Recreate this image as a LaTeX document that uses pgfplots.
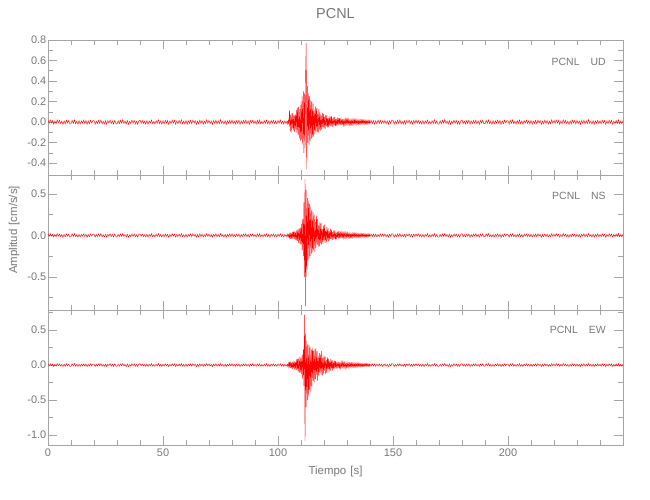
\documentclass[border=0pt]{standalone}
\usepackage{fontspec}
\setmainfont{Liberation Sans}
\usepackage{pgfplots}
\usepackage{pgfplotstable}
\pgfplotsset{compat=1.18}
\definecolor{txtgray}{RGB}{120,120,120}
\definecolor{axgray}{RGB}{165,165,165}
\definecolor{sig}{RGB}{255,0,0}

\pgfplotstableread[row sep=\\]{
t n\\
0 0.018\\0.5 -0.012\\1 0.021\\1.5 -0.009\\2 0.015\\2.5 -0.020\\3 0.011\\3.5 -0.016\\4 0.023\\4.5 -0.008\\
5 0.017\\5.5 -0.014\\6 0.010\\6.5 -0.022\\7 0.013\\7.5 -0.017\\8 0.020\\8.5 -0.010\\9 0.014\\9.5 -0.019\\
10 -0.015\\10.5 0.019\\11 -0.011\\11.5 0.022\\12 -0.016\\12.5 0.009\\13 -0.021\\13.5 0.014\\14 -0.018\\14.5 0.012\\
15 -0.010\\15.5 0.020\\16 -0.013\\16.5 0.017\\17 -0.023\\17.5 0.011\\18 -0.016\\18.5 0.019\\19 -0.009\\19.5 0.015\\
20 0.016\\20.5 -0.021\\21 0.010\\21.5 -0.014\\22 0.019\\22.5 -0.011\\23 0.022\\23.5 -0.017\\24 0.008\\24.5 -0.018\\
25 0.013\\25.5 -0.020\\26 0.016\\26.5 -0.009\\27 0.021\\27.5 -0.015\\28 0.012\\28.5 -0.019\\29 0.017\\29.5 -0.012\\
30 -0.020\\30.5 0.013\\31 -0.016\\31.5 0.018\\32 -0.010\\32.5 0.023\\33 -0.014\\33.5 0.011\\34 -0.019\\34.5 0.016\\
35 -0.022\\35.5 0.009\\36 -0.015\\36.5 0.020\\37 -0.012\\37.5 0.017\\38 -0.018\\38.5 0.010\\39 -0.021\\39.5 0.014\\
40 0.020\\40.5 -0.011\\41 0.017\\41.5 -0.013\\42 0.009\\42.5 -0.019\\43 0.015\\43.5 -0.022\\44 0.012\\44.5 -0.010\\
45 0.021\\45.5 -0.016\\46 0.008\\46.5 -0.018\\47 0.014\\47.5 -0.012\\48 0.022\\48.5 -0.015\\49 0.011\\49.5 -0.020\\
50 0.013\\50.5 -0.017\\51 0.019\\51.5 -0.010\\52 0.016\\52.5 -0.023\\53 0.012\\53.5 -0.014\\54 0.020\\54.5 -0.009\\
55 0.018\\55.5 -0.021\\56 0.011\\56.5 -0.015\\57 0.017\\57.5 -0.012\\58 0.023\\58.5 -0.016\\59 0.010\\59.5 -0.018\\
60 0.015\\60.5 -0.020\\61 0.012\\61.5 -0.011\\62 0.018\\62.5 -0.016\\63 0.021\\63.5 -0.009\\64 0.014\\64.5 -0.022\\
65 0.010\\65.5 -0.017\\66 0.019\\66.5 -0.013\\67 0.016\\67.5 -0.019\\68 0.009\\68.5 -0.014\\69 0.022\\69.5 -0.011\\
70 0.017\\70.5 -0.015\\71 0.011\\71.5 -0.021\\72 0.014\\72.5 -0.010\\73 0.020\\73.5 -0.018\\74 0.013\\74.5 -0.016\\
75 0.023\\75.5 -0.012\\76 0.009\\76.5 -0.019\\77 0.015\\77.5 -0.020\\78 0.012\\78.5 -0.011\\79 0.018\\79.5 -0.014\\
80 0.021\\80.5 -0.016\\81 0.010\\81.5 -0.018\\82 0.015\\82.5 -0.012\\83 0.019\\83.5 -0.022\\84 0.011\\84.5 -0.014\\
85 0.017\\85.5 -0.009\\86 0.020\\86.5 -0.017\\87 0.013\\87.5 -0.021\\88 0.016\\88.5 -0.010\\89 0.019\\89.5 -0.015\\
90 0.012\\90.5 -0.020\\91 0.018\\91.5 -0.011\\92 0.022\\92.5 -0.016\\93 0.009\\93.5 -0.019\\94 0.014\\94.5 -0.013\\
95 0.020\\95.5 -0.017\\96 0.011\\96.5 -0.021\\97 0.016\\97.5 -0.010\\98 0.019\\98.5 -0.014\\99 0.013\\99.5 -0.018\\
100 0.017\\100.5 -0.012\\101 0.021\\101.5 -0.015\\102 0.010\\102.5 -0.019\\103 0.014\\103.5 -0.016\\104 0.012\\
104.5 nan\\
146 -0.013\\146.5 0.018\\147 -0.016\\147.5 0.011\\148 -0.020\\148.5 0.015\\149 -0.012\\149.5 0.021\\
150 0.016\\150.5 -0.021\\151 0.010\\151.5 -0.014\\152 0.019\\152.5 -0.011\\153 0.022\\153.5 -0.017\\154 0.008\\154.5 -0.018\\
155 0.013\\155.5 -0.020\\156 0.016\\156.5 -0.009\\157 0.021\\157.5 -0.015\\158 0.012\\158.5 -0.019\\159 0.017\\159.5 -0.012\\
160 0.020\\160.5 -0.011\\161 0.017\\161.5 -0.013\\162 0.009\\162.5 -0.019\\163 0.015\\163.5 -0.022\\164 0.012\\164.5 -0.010\\
165 0.021\\165.5 -0.016\\166 0.008\\166.5 -0.018\\167 0.014\\167.5 -0.012\\168 0.022\\168.5 -0.015\\169 0.011\\169.5 -0.020\\
170 -0.020\\170.5 0.013\\171 -0.016\\171.5 0.018\\172 -0.010\\172.5 0.023\\173 -0.014\\173.5 0.011\\174 -0.019\\174.5 0.016\\
175 -0.022\\175.5 0.009\\176 -0.015\\176.5 0.020\\177 -0.012\\177.5 0.017\\178 -0.018\\178.5 0.010\\179 -0.021\\179.5 0.014\\
180 0.021\\180.5 -0.016\\181 0.010\\181.5 -0.018\\182 0.015\\182.5 -0.012\\183 0.019\\183.5 -0.022\\184 0.011\\184.5 -0.014\\
185 0.017\\185.5 -0.009\\186 0.020\\186.5 -0.017\\187 0.013\\187.5 -0.021\\188 0.016\\188.5 -0.010\\189 0.019\\189.5 -0.015\\
190 -0.015\\190.5 0.019\\191 -0.011\\191.5 0.022\\192 -0.016\\192.5 0.009\\193 -0.021\\193.5 0.014\\194 -0.018\\194.5 0.012\\
195 -0.010\\195.5 0.020\\196 -0.013\\196.5 0.017\\197 -0.023\\197.5 0.011\\198 -0.016\\198.5 0.019\\199 -0.009\\199.5 0.015\\
200 0.012\\200.5 -0.020\\201 0.018\\201.5 -0.011\\202 0.022\\202.5 -0.016\\203 0.009\\203.5 -0.019\\204 0.014\\204.5 -0.013\\
205 0.020\\205.5 -0.017\\206 0.011\\206.5 -0.021\\207 0.016\\207.5 -0.010\\208 0.019\\208.5 -0.014\\209 0.013\\209.5 -0.018\\
210 0.015\\210.5 -0.020\\211 0.012\\211.5 -0.011\\212 0.018\\212.5 -0.016\\213 0.021\\213.5 -0.009\\214 0.014\\214.5 -0.022\\
215 0.010\\215.5 -0.017\\216 0.019\\216.5 -0.013\\217 0.016\\217.5 -0.019\\218 0.009\\218.5 -0.014\\219 0.022\\219.5 -0.011\\
220 0.018\\220.5 -0.012\\221 0.021\\221.5 -0.009\\222 0.015\\222.5 -0.020\\223 0.011\\223.5 -0.016\\224 0.023\\224.5 -0.008\\
225 0.017\\225.5 -0.014\\226 0.010\\226.5 -0.022\\227 0.013\\227.5 -0.017\\228 0.020\\228.5 -0.010\\229 0.014\\229.5 -0.019\\
230 0.017\\230.5 -0.015\\231 0.011\\231.5 -0.021\\232 0.014\\232.5 -0.010\\233 0.020\\233.5 -0.018\\234 0.013\\234.5 -0.016\\
235 0.023\\235.5 -0.012\\236 0.009\\236.5 -0.019\\237 0.015\\237.5 -0.020\\238 0.012\\238.5 -0.011\\239 0.018\\239.5 -0.014\\
240 0.013\\240.5 -0.017\\241 0.019\\241.5 -0.010\\242 0.016\\242.5 -0.023\\243 0.012\\243.5 -0.014\\244 0.020\\244.5 -0.009\\
245 0.018\\245.5 -0.021\\246 0.011\\246.5 -0.015\\247 0.017\\247.5 -0.012\\248 0.023\\248.5 -0.016\\249 0.010\\249.5 -0.018\\
250 0.015\\
}\noise

\pgfplotstableread[row sep=\\]{
t u n e\\
104.00 0.012 -0.015 0.014\\
104.25 -0.018 0.016 -0.019\\
104.50 0.015 -0.018 0.030\\
104.75 -0.016 0.014 -0.035\\
105.00 0.120 -0.030 0.045\\
105.25 -0.090 0.035 -0.040\\
105.50 0.070 -0.040 0.050\\
105.75 -0.100 0.030 -0.045\\
106.00 0.085 -0.045 0.038\\
106.25 -0.060 0.040 -0.055\\
106.50 0.090 -0.035 0.050\\
106.75 -0.080 0.050 -0.042\\
107.00 0.065 -0.040 0.055\\
107.25 -0.095 0.045 -0.060\\
107.50 0.080 -0.055 0.048\\
107.75 -0.070 0.050 -0.065\\
108.00 0.120 -0.060 0.080\\
108.25 -0.110 0.070 -0.075\\
108.50 0.140 -0.065 0.090\\
108.75 -0.130 0.080 -0.100\\
109.00 0.150 -0.090 0.095\\
109.25 -0.160 0.085 -0.110\\
109.50 0.130 -0.100 0.120\\
109.75 -0.180 0.095 -0.105\\
110.00 0.200 -0.120 0.110\\
110.25 -0.170 0.140 -0.130\\
110.50 0.250 -0.180 0.150\\
110.75 -0.220 0.200 -0.200\\
111.00 0.300 -0.250 0.220\\
111.25 -0.300 0.400 -0.300\\
111.50 0.280 -0.500 0.720\\
111.75 -0.250 0.680 -1.080\\
112.00 0.450 -0.850 0.450\\
112.25 0.770 0.550 -0.600\\
112.50 -0.460 -0.500 0.350\\
112.75 0.350 0.450 -0.500\\
113.00 -0.200 -0.300 0.300\\
113.25 0.280 0.420 -0.450\\
113.50 -0.220 -0.280 0.280\\
113.75 0.250 0.380 -0.350\\
114.00 -0.180 -0.250 0.250\\
114.25 0.220 0.350 -0.380\\
114.50 -0.160 -0.220 0.220\\
114.75 0.200 0.300 -0.300\\
115.00 -0.150 -0.200 0.250\\
115.25 0.180 0.280 -0.220\\
115.50 -0.140 -0.180 0.200\\
115.75 0.120 0.250 -0.250\\
116.00 -0.120 -0.200 0.220\\
116.25 0.150 0.160 -0.200\\
116.50 -0.090 -0.150 0.240\\
116.75 0.140 0.240 -0.140\\
117.00 -0.100 -0.110 0.200\\
117.25 0.080 0.200 -0.220\\
117.50 -0.110 -0.140 0.130\\
117.75 0.130 0.120 -0.160\\
118.00 -0.070 -0.130 0.170\\
118.25 0.100 0.170 -0.110\\
118.50 -0.080 -0.090 0.150\\
118.75 0.060 0.150 -0.140\\
119.00 -0.070 -0.110 0.200\\
119.25 0.090 0.080 -0.150\\
119.50 -0.050 -0.100 0.100\\
119.75 0.080 0.120 -0.120\\
120.00 -0.060 -0.070 0.140\\
120.25 0.050 0.130 -0.080\\
120.50 -0.070 -0.090 0.120\\
120.75 0.070 0.060 -0.130\\
121.00 -0.040 -0.080 0.070\\
121.25 0.070 0.100 -0.110\\
121.50 -0.050 -0.050 0.110\\
121.75 0.040 0.090 -0.060\\
122.00 -0.050 -0.070 0.090\\
122.25 0.060 0.050 -0.100\\
122.50 -0.035 -0.060 0.060\\
122.75 0.050 0.080 -0.080\\
123.00 -0.040 -0.040 0.090\\
123.25 0.060 0.070 -0.050\\
123.50 -0.050 -0.060 0.070\\
123.75 0.035 0.040 -0.080\\
124.00 -0.040 -0.050 0.050\\
124.25 0.050 0.060 -0.060\\
124.50 -0.030 -0.035 0.060\\
124.75 0.050 0.060 -0.045\\
125.00 -0.040 -0.050 0.060\\
125.25 0.030 0.035 -0.050\\
125.50 -0.035 -0.045 0.040\\
125.75 0.045 0.050 -0.050\\
126.00 -0.030 -0.030 0.050\\
126.25 0.040 0.050 -0.035\\
126.50 -0.025 -0.040 0.045\\
126.75 0.040 0.030 -0.050\\
127.00 -0.030 -0.035 0.030\\
127.25 0.025 0.045 -0.045\\
127.50 -0.030 -0.030 0.040\\
127.75 0.035 0.040 -0.030\\
128.00 -0.025 -0.025 0.045\\
128.25 0.030 0.035 -0.035\\
128.50 -0.030 -0.030 0.030\\
128.75 0.022 0.035 -0.035\\
129.00 -0.025 -0.022 0.035\\
129.25 0.030 0.035 -0.040\\
129.50 -0.025 -0.030 0.025\\
129.75 0.028 0.025 -0.035\\
130.00 -0.022 -0.028 0.035\\
130.25 0.028 0.030 -0.025\\
130.50 -0.022 -0.025 0.030\\
130.75 0.026 0.022 -0.032\\
131.00 -0.024 -0.025 0.028\\
131.25 0.020 0.027 -0.030\\
131.50 -0.022 -0.024 0.024\\
131.75 0.024 0.020 -0.028\\
132.00 -0.022 -0.022 0.030\\
132.25 0.025 0.025 -0.024\\
132.50 -0.020 -0.023 0.025\\
132.75 0.022 0.024 -0.027\\
133.00 -0.021 -0.020 0.026\\
133.25 0.023 0.023 -0.022\\
133.50 -0.019 -0.022 0.025\\
133.75 0.022 0.021 -0.025\\
134.00 -0.020 -0.020 0.024\\
134.25 0.021 0.022 -0.022\\
134.50 -0.018 -0.019 0.023\\
134.75 0.020 0.021 -0.024\\
135.00 -0.019 -0.018 0.022\\
135.25 0.020 0.020 -0.021\\
135.50 -0.017 -0.019 0.021\\
135.75 0.019 0.018 -0.022\\
136.00 -0.018 -0.017 0.020\\
136.25 0.019 0.019 -0.020\\
136.50 -0.016 -0.018 0.020\\
136.75 0.018 0.017 -0.019\\
137.00 -0.017 -0.016 0.019\\
137.25 0.018 0.018 -0.018\\
137.50 -0.015 -0.017 0.018\\
137.75 0.017 0.016 -0.019\\
138.00 -0.016 -0.015 0.017\\
138.25 0.017 0.017 -0.017\\
138.50 -0.015 -0.016 0.018\\
138.75 0.016 0.015 -0.016\\
139.00 -0.015 -0.015 0.016\\
139.25 0.016 0.016 -0.017\\
139.50 -0.014 -0.015 0.016\\
139.75 0.015 0.014 -0.015\\
140.00 -0.014 -0.014 0.016\\
140.50 0.018 0.017 -0.015\\
141.00 -0.013 -0.014 0.019\\
141.50 0.016 0.018 -0.014\\
142.00 -0.019 -0.013 0.017\\
142.50 0.014 0.016 -0.020\\
143.00 -0.017 -0.019 0.014\\
143.50 0.020 0.012 -0.017\\
144.00 -0.012 -0.017 0.018\\
144.50 0.018 0.020 -0.012\\
145.00 -0.015 -0.012 0.016\\
145.50 0.012 0.016 -0.019\\
146.00 -0.013 -0.013 0.013\\
}\burst

\pgfplotsset{panel/.style={
  scale only axis, width=575bp, height=135bp,
  xmin=0, xmax=250,
  xtick={0,50,100,150,200},
  minor xtick={10,20,30,40,60,70,80,90,110,120,130,140,160,170,180,190,210,220,230,240},
  tick align=inside, major tick length=9bp, minor tick length=5bp,
  axis line style={draw=axgray, line width=0.7bp},
  tick style={draw=axgray, line width=0.7bp},
  tick label style={font=\fontsize{11}{11}\selectfont, text=txtgray},
  /pgf/number format/assume math mode=true,
  yticklabel style={/pgf/number format/fixed, /pgf/number format/fixed zerofill,
    /pgf/number format/precision=1, inner xsep=1.5bp},
  scaled y ticks=false,
  unbounded coords=jump,
  clip=true,
}}
\tikzset{sigline/.style={sig, line width=0.4bp, mark=none}}

\begin{document}
\begin{tikzpicture}
\useasboundingbox (-48bp,-460bp) rectangle (602bp,40bp);
\begin{axis}[panel, name=top, at={(0,0)}, anchor=north west,
  ymin=-0.515, ymax=0.8,
  ytick={-0.4,-0.2,0,0.2,0.4,0.6,0.8},
  minor ytick={-0.3,-0.1,0.1,0.3,0.5,0.7},
  xticklabels={},
  title={PCNL},
  title style={font=\fontsize{14.5}{14.5}\selectfont, text=txtgray, at={(axis description cs:0.5,1)}, anchor=center, yshift=20bp},
]
\addplot[sigline] table[x=t,y=n]{\noise};
\addplot[sigline] table[x=t,y=u]{\burst};
\node[anchor=east, font=\fontsize{10.5}{10.5}\selectfont, text=txtgray] at (rel axis cs:0.976,0.837) {PCNL\hspace{11bp}UD};
\end{axis}
\begin{axis}[panel, name=mid, at={(top.south west)}, anchor=north west,
  ymin=-0.9, ymax=0.73,
  ytick={-0.5,0,0.5},
  minor ytick={-0.75,-0.25,0.25},
  xticklabels={},
  ylabel={Amplitud\hspace{4bp}[cm/s/s]},
  ylabel style={font=\fontsize{11.5}{11.5}\selectfont, text=txtgray, at={(axis description cs:-0.059,0.593)}, anchor=center},
]
\addplot[sigline] table[x=t,y=n]{\noise};
\addplot[sigline] table[x=t,y=n]{\burst};
\node[anchor=east, font=\fontsize{10.5}{10.5}\selectfont, text=txtgray] at (rel axis cs:0.976,0.844) {PCNL\hspace{11bp}NS};
\end{axis}
\begin{axis}[panel, name=bot, at={(mid.south west)}, anchor=north west,
  ymin=-1.14, ymax=0.786,
  ytick={-1,-0.5,0,0.5},
  minor ytick={-0.75,-0.25,0.25,0.75},
  xlabel={Tiempo\hspace{4bp}[s]},
  xlabel style={font=\fontsize{11.5}{11.5}\selectfont, text=txtgray, at={(axis description cs:0.5,0)}, anchor=center, yshift=-27bp},
]
\addplot[sigline] table[x=t,y=n]{\noise};
\addplot[sigline] table[x=t,y=e]{\burst};
\node[anchor=east, font=\fontsize{10.5}{10.5}\selectfont, text=txtgray] at (rel axis cs:0.976,0.85) {PCNL\hspace{11bp}EW};
\end{axis}
\end{tikzpicture}
\end{document}
